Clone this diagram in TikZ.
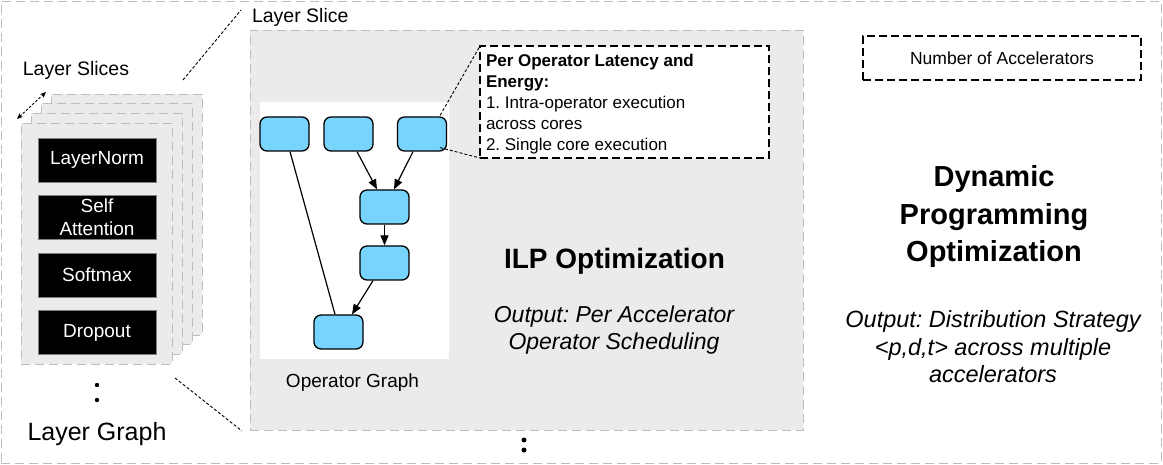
\documentclass[tikz,border=0pt]{standalone}
\usepackage{fontspec}
\setmainfont{Liberation Sans}
\usetikzlibrary{arrows.meta,calc}
\definecolor{panelgray}{HTML}{EBEBEB}
\definecolor{bordergray}{HTML}{BDBDBD}
\definecolor{opblue}{HTML}{76D4FD}
\newcommand{\fsz}[2]{\fontsize{#1}{#2}\selectfont}
\frenchspacing
\begin{document}
\begin{tikzpicture}[x=1pt,y=-1pt,
  graydash/.style={draw=bordergray,line width=0.9pt,dash pattern=on 9pt off 5pt},
  slicebox/.style={graydash,fill=panelgray,minimum width=151pt,minimum height=241pt,inner sep=0pt,outer sep=0pt,anchor=north west},
  layerbox/.style={fill=black,draw=gray,line width=0.4pt,text=white,minimum width=118pt,minimum height=44pt,inner sep=0pt,align=center,font=\fsz{19}{23}},
  opnode/.style={draw=black,line width=1.3pt,fill=opblue,rounded corners=7pt,minimum width=49pt,minimum height=34pt,inner sep=0pt},
  opedge/.style={line width=1.2pt,draw=black},
  oparrow/.style={opedge,-{Triangle[length=10pt,width=8pt]}},
  linkdash/.style={draw=black,line width=0.9pt,dash pattern=on 3pt off 2pt},
  blackdash/.style={draw=black,line width=1.4pt,dash pattern=on 8pt off 4pt,inner sep=0pt,outer sep=0pt},
  plain/.style={inner sep=0pt,outer sep=0pt}
]
\useasboundingbox (0,0) rectangle (1163,465);
% outer border
\node[graydash,plain,anchor=north west,minimum width=1160pt,minimum height=462pt] (outer) at (1,1) {};
% layer slice stack
\node[slicebox] (s4) at (51,94) {};
\node[slicebox] (s3) at (41,103) {};
\node[slicebox] (s2) at (31,113) {};
\node[slicebox] (s1) at (21,123) {};
\node[layerbox] (ln) at (97,160) {LayerNorm};
\node[layerbox] (sa) at (97,217.5) {Self\\Attention};
\node[layerbox] (sm) at (97,275) {Softmax};
\node[layerbox] (dr) at (97,332.5) {Dropout};
\node[plain,anchor=base,font=\fsz{19.5}{23}] (lslices) at (76,76) {Layer Slices};
\coordinate (arrA) at (17,119);
\coordinate (arrB) at (46,92);
\draw[line width=0.9pt,dash pattern=on 2.5pt off 1.8pt,{Stealth[length=6pt,width=5pt]}-{Stealth[length=6pt,width=5pt]}] (arrA) -- (arrB);
\fill (97,385) circle (2.2pt);
\fill (97,400) circle (2.2pt);
\node[plain,anchor=base,font=\fsz{25}{30}] (lgraph) at (97,440) {Layer Graph};
% middle panel
\node[graydash,fill=panelgray,plain,anchor=north west,minimum width=553pt,minimum height=400pt] (panel) at (250,30) {};
\node[plain,anchor=base west,font=\fsz{19.5}{23}] (lslice) at (252,23) {Layer Slice};
\coordinate (tA) at (183,80);
\coordinate (tB) at (241,10);
\coordinate (bA) at (175,378);
\coordinate (bB) at (242,431);
\draw[linkdash] (tA) -- (tB);
\draw[linkdash] (bA) -- (bB);
\fill (524,440) circle (2.5pt);
\fill (524,450) circle (2.5pt);
% operator graph
\node[fill=white,plain,anchor=north west,minimum width=189pt,minimum height=257pt] (wbox) at (260,102) {};
\node[opnode] (n1) at (284.5,134) {};
\node[opnode] (n2) at (348.5,134) {};
\node[opnode] (n3) at (422,134) {};
\node[opnode] (n4) at (384.5,207) {};
\node[opnode] (n5) at (384.5,263) {};
\node[opnode] (n6) at (338.5,332) {};
\draw[opedge] ($(n1.south)+(5.5,0)$) -- ($(n6.north)+(-3.5,0)$);
\draw[oparrow] ($(n2.south)+(8.5,0)$) -- ($(n4.north)+(-7.5,0)$);
\draw[oparrow] ($(n3.south)+(-9,0)$) -- ($(n4.north)+(9.5,0)$);
\draw[oparrow] (n4.south) -- (n5.north);
\draw[oparrow] ($(n5.south)+(-11.5,0)$) -- ($(n6.north)+(13.5,0)$);
\node[plain,anchor=base,font=\fsz{19}{23}] (ogl) at (352.5,387) {Operator Graph};
% callout
\node[blackdash,fill=white,anchor=north west,minimum width=289pt,minimum height=112pt] (callout) at (480,46) {};
\node[plain,anchor=north west,align=left,font=\fsz{17}{20.8}] (callouttext) at (486,54.6) {\textbf{Per Operator Latency and}\\\textbf{Energy:}\\1. Intra-operator execution\\across cores\\2. Single core execution};
\draw[linkdash] ($(n3.north east)+(-7,-1)$) -- (callout.north west);
\draw[linkdash] ($(n3.south east)+(-7,-4)$) -- (callout.south west);
\node[plain,anchor=base,font=\bfseries\fsz{28}{34}] (ilp) at (614.5,269) {ILP Optimization};
\node[plain,align=center,font=\itshape\fsz{23}{27}] (ilpout) at (614,330.5) {Output: Per Accelerator\\Operator Scheduling};
% right side
\node[blackdash,anchor=north west,minimum width=278pt,minimum height=44pt] (nacc) at (863,36) {};
\node[plain,font=\fsz{17.5}{21}] (nacctext) at (1002,58) {Number of Accelerators};
\node[plain,align=center,font=\bfseries\fsz{29}{37.7}] (dp) at (994,216.8) {Dynamic\\Programming\\Optimization};
\node[plain,align=center,font=\itshape\fsz{23.5}{27.5}] (dpout) at (993,346.7) {Output: Distribution Strategy\\<p,d,t> across multiple\\accelerators};
\end{tikzpicture}
\end{document}
